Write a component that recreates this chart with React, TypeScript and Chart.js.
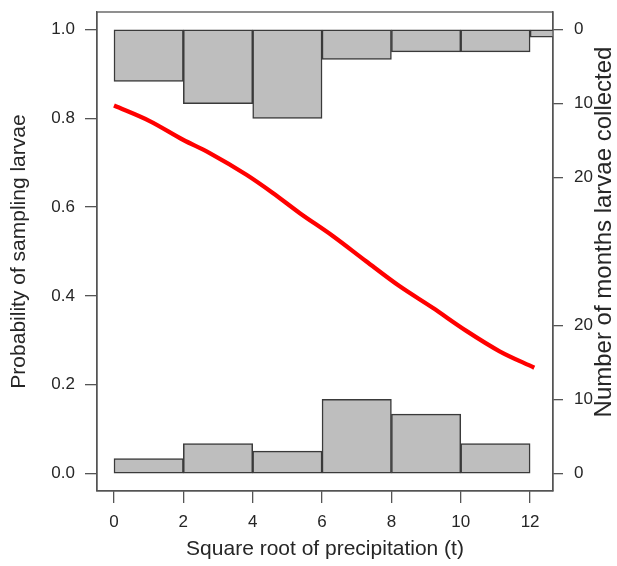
import React, { useEffect, useRef } from 'react';
import { Chart, registerables } from 'chart.js';

Chart.register(...registerables);

// Histogram bins (width 2, centres)
const topBinCenters = [1, 3, 5, 7, 9, 11, 13];
const topCounts = [7, 10, 12, 4, 3, 3, 1];
const bottomBinCenters = [1, 3, 5, 7, 9, 11];
const bottomCounts = [2, 4, 3, 10, 8, 4];

// Fitted probability curve
const curveX = [0, 1.03, 1.99, 2.76, 3.82, 4.58, 5.35, 6.31, 7.27, 8.23, 9.19, 10.16, 11.12, 12.12];
const curveY = [0.829, 0.794, 0.752, 0.722, 0.673, 0.632, 0.587, 0.535, 0.478, 0.422, 0.373, 0.321, 0.275, 0.238];

// Axis ticks
const xTicks = [0, 2, 4, 6, 8, 10, 12];
const leftTicks = [0, 0.2, 0.4, 0.6, 0.8, 1.0];
const rightTickCountsBottom = [0, 10, 20];
const rightTickCountsTop = [20, 10, 0];
const countsPerUnit = 60;

const rightTitle = 'Number of months larvae collected';

const FONT = "'Liberation Sans', Arial, sans-serif";
const AXIS = '#555555';
const TEXT = '#262626';

export default function App() {
  const ref = useRef<HTMLCanvasElement | null>(null);

  useEffect(() => {
    const canvas = ref.current;
    if (!canvas) return;

    const rightTickValues = [
      ...rightTickCountsBottom.map((c) => c / countsPerUnit),
      ...rightTickCountsTop.map((c) => 1 - c / countsPerUnit),
    ];
    const rightTickLabels = [...rightTickCountsBottom, ...rightTickCountsTop].map(String);

    const framePlugin = {
      id: 'frame',
      afterDraw(chart: any) {
        const { ctx, chartArea } = chart;
        ctx.save();
        ctx.strokeStyle = AXIS;
        ctx.lineWidth = 1.3;
        ctx.strokeRect(chartArea.left, chartArea.top, chartArea.right - chartArea.left, chartArea.bottom - chartArea.top);
        // right-hand axis title, reading bottom-to-top
        ctx.translate(604, 232);
        ctx.rotate(-Math.PI / 2);
        ctx.fillStyle = TEXT;
        ctx.font = `24px ${FONT}`;
        ctx.textAlign = 'center';
        ctx.textBaseline = 'middle';
        ctx.fillText(rightTitle, 0, 0);
        ctx.restore();
      },
    };

    const barCommon = {
      backgroundColor: '#bebebe',
      borderColor: '#3a3a3a',
      borderWidth: 1.5,
      borderSkipped: false,
      barPercentage: 1,
      categoryPercentage: 1,
      grouped: false,
      order: 1,
    };

    const noVPad = (s: any) => {
      s.paddingTop = 0;
      s.paddingBottom = 0;
    };

    const chart = new Chart(canvas, {
      type: 'bar',
      data: {
        datasets: [
          {
            type: 'line',
            data: curveX.map((x, i) => ({ x, y: curveY[i] })),
            borderColor: '#ff0000',
            borderWidth: 4.3,
            pointRadius: 0,
            cubicInterpolationMode: 'monotone',
            xAxisID: 'x',
            yAxisID: 'y',
            order: 0,
          } as any,
          {
            type: 'bar',
            data: topBinCenters.map((x, i) => ({ x, y: [0, topCounts[i]] })),
            xAxisID: 'x',
            yAxisID: 'yTop',
            ...barCommon,
          } as any,
          {
            type: 'bar',
            data: bottomBinCenters.map((x, i) => ({ x, y: [0, bottomCounts[i]] })),
            xAxisID: 'x',
            yAxisID: 'yBot',
            ...barCommon,
          } as any,
        ],
      },
      options: {
        animation: false,
        responsive: false,
        maintainAspectRatio: false,
        layout: { padding: { top: 12, left: 0, right: 0, bottom: 0 } },
        plugins: { legend: { display: false }, tooltip: { enabled: false } },
        scales: {
          x: {
            type: 'linear',
            position: 'bottom',
            min: -0.49,
            max: 12.66,
            offset: false,
            afterBuildTicks: (a: any) => {
              a.ticks = xTicks.map((v) => ({ value: v }));
            },
            ticks: {
              font: { family: FONT, size: 17 },
              color: TEXT,
              padding: 9,
              maxRotation: 0,
              autoSkip: false,
              callback: (v: any) => String(v),
            },
            grid: { offset: false, drawOnChartArea: false, drawTicks: true, tickLength: 12, color: AXIS, lineWidth: 1.3 },
            border: { display: true, color: AXIS, width: 1.3 },
            title: {
              display: true,
              text: 'Square root of precipitation (t)',
              font: { family: FONT, size: 21 },
              color: TEXT,
              padding: { top: 4, bottom: 4 },
            },
            afterFit: (s: any) => {
              s.height = 75;
              s.paddingLeft = 0;
              s.paddingRight = 0;
            },
          },
          y: {
            type: 'linear',
            position: 'left',
            min: -0.04,
            max: 1.04,
            afterBuildTicks: (a: any) => {
              a.ticks = leftTicks.map((v) => ({ value: v }));
            },
            ticks: {
              font: { family: FONT, size: 17 },
              color: TEXT,
              padding: 10,
              callback: (v: any) => Number(v).toFixed(1),
            },
            grid: { drawOnChartArea: false, drawTicks: true, tickLength: 12, color: AXIS, lineWidth: 1.3 },
            border: { display: true, color: AXIS, width: 1.3 },
            title: {
              display: true,
              text: 'Probability of sampling larvae',
              font: { family: FONT, size: 21 },
              color: TEXT,
              padding: { top: 7, bottom: 0 },
            },
            afterFit: (s: any) => {
              s.width = 97;
              noVPad(s);
            },
          },
          yR: {
            type: 'linear',
            position: 'right',
            min: -0.04,
            max: 1.04,
            afterBuildTicks: (a: any) => {
              a.ticks = rightTickValues.map((v) => ({ value: v }));
            },
            ticks: {
              font: { family: FONT, size: 17 },
              color: TEXT,
              padding: 11,
              callback: (_v: any, i: number) => rightTickLabels[i],
            },
            grid: { drawOnChartArea: false, drawTicks: true, tickLength: 10, color: AXIS, lineWidth: 1.3 },
            border: { display: true, color: AXIS, width: 1.3 },
            title: { display: false },
            afterFit: (s: any) => {
              s.width = 64;
              noVPad(s);
            },
          },
          yTop: { type: 'linear', display: false, reverse: true, min: -2.4, max: 62.4 },
          yBot: { type: 'linear', display: false, min: -2.4, max: 62.4 },
        },
      } as any,
      plugins: [framePlugin],
    });

    return () => chart.destroy();
  }, []);

  return (
    <div style={{ position: 'absolute', left: 0, top: 0, width: 617, height: 566, background: '#ffffff' }}>
      <canvas ref={ref} width={617} height={566} style={{ width: 617, height: 566, display: 'block' }} />
    </div>
  );
}
